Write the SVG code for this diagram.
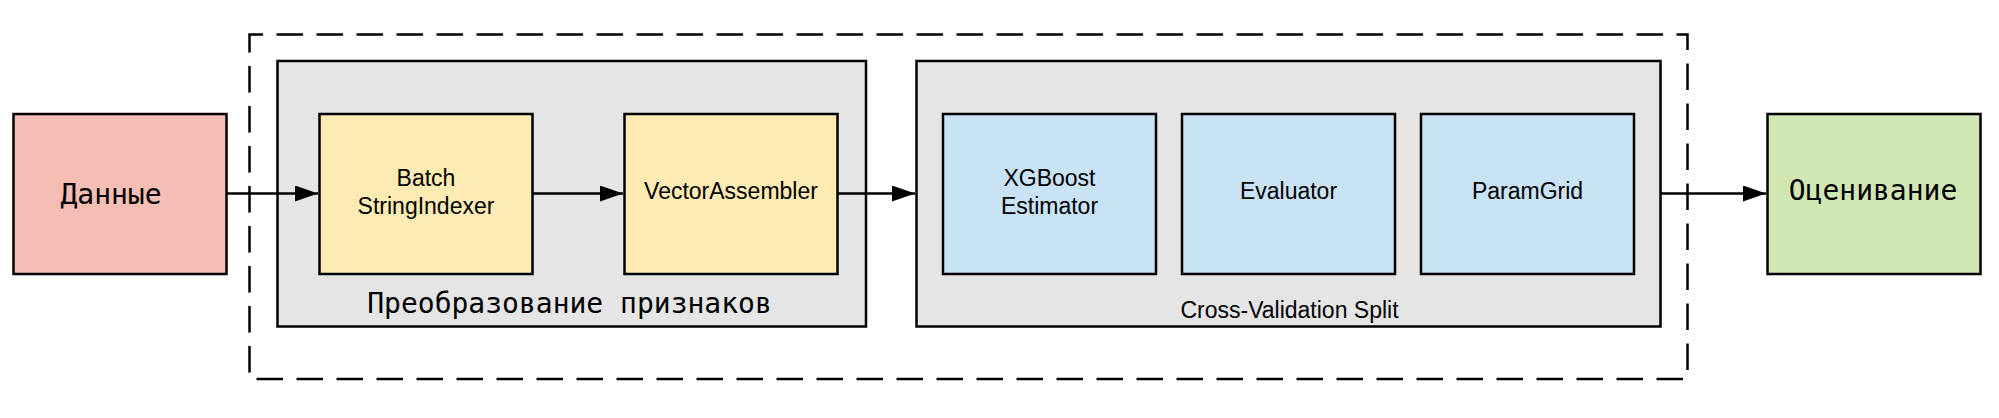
<svg xmlns="http://www.w3.org/2000/svg" width="1999" height="418" viewBox="0 0 1999 418">
<style>
.box{stroke:#000;stroke-width:2.5}
.mono{font-family:"DejaVu Sans Mono","Liberation Mono",monospace;font-size:28px;fill:#000}
.sans{font-family:"Liberation Sans",Arial,sans-serif;font-size:23px;fill:#000}
.edge{stroke:#000;stroke-width:2.5;fill:none}
</style>
<defs>
<marker id="arr" markerUnits="userSpaceOnUse" viewBox="0 0 23 16" markerWidth="23" markerHeight="16" refX="23" refY="8" orient="auto">
<path d="M0,0 L23,8 L0,16 Z" fill="#000"/>
</marker>
</defs>
<rect width="1999" height="418" fill="#fff"/>
<g id="pipeline">
<rect x="249.5" y="34.5" width="1438" height="344.5" fill="none" stroke="#000" stroke-width="2.5" stroke-dasharray="26.5 13.5" stroke-dashoffset="13"/>
</g>
<g id="features">
<rect class="box" x="277.5" y="61" width="588.5" height="265.5" fill="#e5e5e5"/>
<text class="mono" x="569.5" y="313" text-anchor="middle">Преобразование признаков</text>
</g>
<g id="cv">
<rect class="box" x="916.5" y="61" width="744" height="265.5" fill="#e5e5e5"/>
<text class="sans" x="1289.5" y="318" text-anchor="middle">Cross-Validation Split</text>
</g>
<g id="data">
<rect class="box" x="13.5" y="114" width="213" height="160" fill="#f5bdb3"/>
<text class="mono" x="111" y="204" text-anchor="middle">Данные</text>
</g>
<g id="indexer">
<rect class="box" x="319.5" y="114" width="213" height="160" fill="#fdebb3"/>
<text class="sans" x="426" y="186" text-anchor="middle">Batch</text>
<text class="sans" x="426" y="214" text-anchor="middle">StringIndexer</text>
</g>
<g id="assembler">
<rect class="box" x="624.5" y="114" width="213" height="160" fill="#fdebb3"/>
<text class="sans" x="731" y="199" text-anchor="middle">VectorAssembler</text>
</g>
<g id="xgboost">
<rect class="box" x="943" y="114" width="213" height="160" fill="#c8e3f5"/>
<text class="sans" x="1049.5" y="186" text-anchor="middle">XGBoost</text>
<text class="sans" x="1049.5" y="214" text-anchor="middle">Estimator</text>
</g>
<g id="evaluator">
<rect class="box" x="1182" y="114" width="213" height="160" fill="#c8e3f5"/>
<text class="sans" x="1288.5" y="198.5" text-anchor="middle">Evaluator</text>
</g>
<g id="paramgrid">
<rect class="box" x="1421" y="114" width="213" height="160" fill="#c8e3f5"/>
<text class="sans" x="1527.5" y="198.5" text-anchor="middle">ParamGrid</text>
</g>
<g id="evaluation">
<rect class="box" x="1767.5" y="114" width="213" height="160" fill="#d0e6b3"/>
<text class="mono" x="1873" y="200" text-anchor="middle">Оценивание</text>
</g>
<g id="connectors">
<path class="edge" d="M227,193.5 H318" marker-end="url(#arr)"/>
<path class="edge" d="M533,193.5 H623" marker-end="url(#arr)"/>
<path class="edge" d="M838,193.5 H915" marker-end="url(#arr)"/>
<path class="edge" d="M1661,193.5 H1766" marker-end="url(#arr)"/>
</g>
</svg>
